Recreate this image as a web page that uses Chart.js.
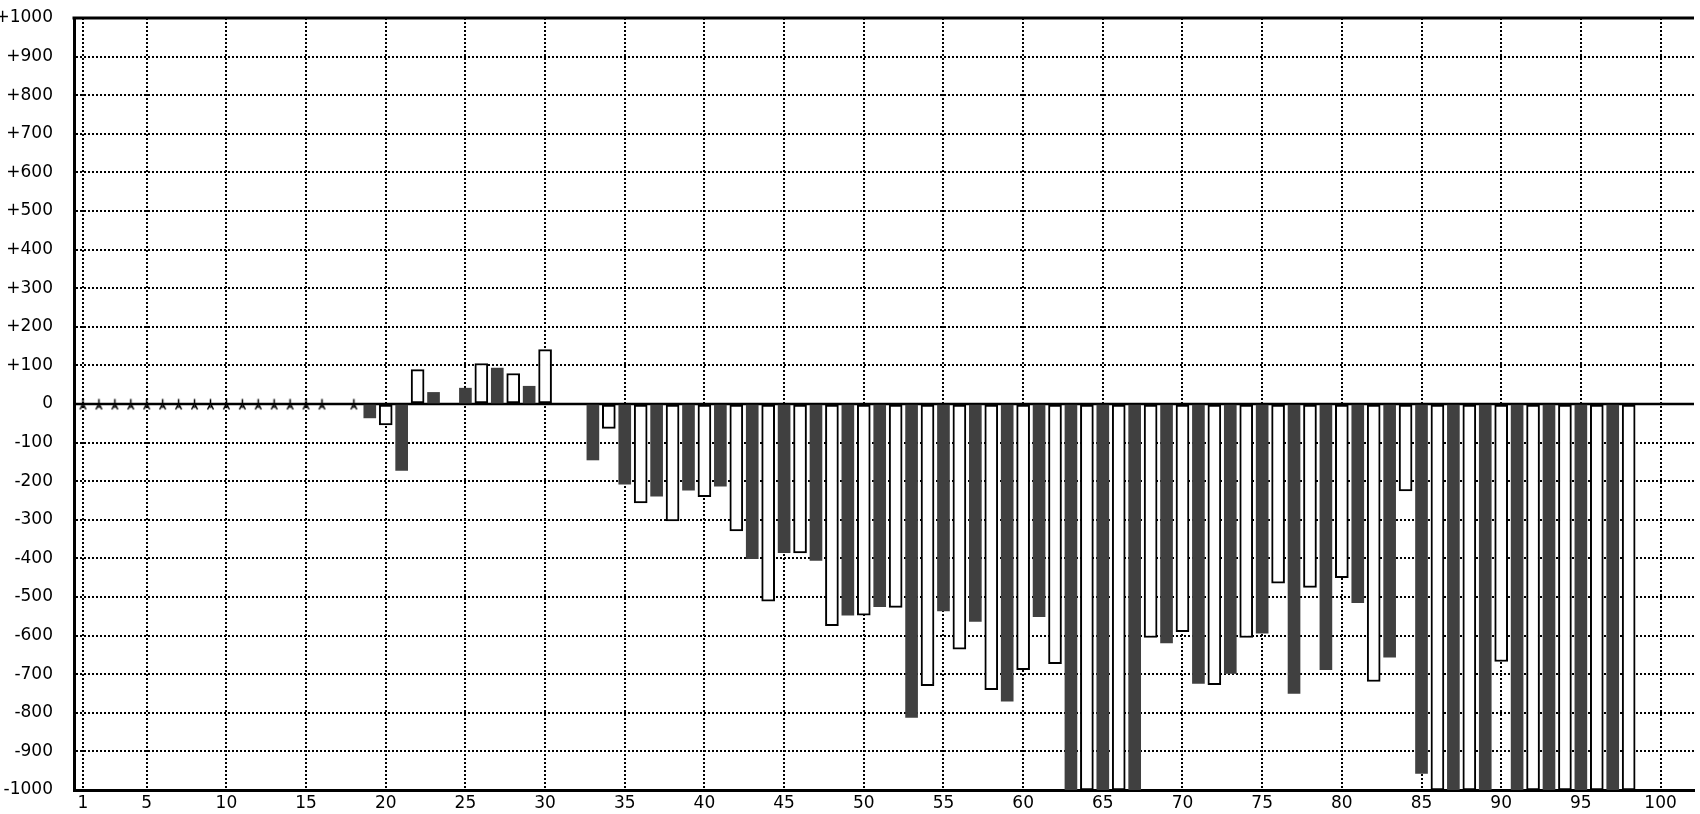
<!DOCTYPE html>
<html><head><meta charset="utf-8">
<script src="https://cdn.jsdelivr.net/npm/chart.js@4/dist/chart.umd.min.js"></script>
<style>html,body{margin:0;padding:0;background:#fff;overflow:hidden}#wrap{width:1700px;height:814px;position:relative}</style>
</head><body><div id="wrap"><canvas id="c" width="1700" height="814"></canvas></div>
<script>
// ---- data ----
const categories = [];
for (let i = 1; i <= 100; i++) categories.push(i);
const values = [
  0, 0, 0, 0, 0, 0, 0, 0, 0, 0,            // 1-10
  0, 0, 0, 0, 0, 0, null, 0, -36, -54,     // 11-20
  -172, 89, 30, null, 41, 105, 93, 79, 46, 141, // 21-30
  null, null, -145, -63, -208, -256, -239, -303, -223, -240, // 31-40
  -213, -329, -401, -511, -385, -386, -405, -574, -547, -547, // 41-50
  -525, -527, -812, -730, -536, -635, -563, -740, -770, -688, // 51-60
  -551, -673, -1000, -1000, -1000, -1000, -1000, -605, -619, -590, // 61-70
  -724, -727, -698, -605, -594, -464, -750, -475, -688, -450, // 71-80
  -515, -719, -656, -225, -957, -1000, -1000, -1000, -1000, -667, // 81-90
  -1000, -1000, -1000, -1000, -1000, -1000, -1000, -1000, null, null // 91-100
];
const xTicks = [1, 5, 10, 15, 20, 25, 30, 35, 40, 45, 50, 55, 60, 65, 70, 75, 80, 85, 90, 95, 100];
const yTicks = [-1000, -900, -800, -700, -600, -500, -400, -300, -200, -100, 0, 100, 200, 300, 400, 500, 600, 700, 800, 900, 1000];

// ---- derived datasets ----
const oddBars = [], evenBars = [], zeroMarks = [];
categories.forEach((c, i) => {
  const v = values[i];
  if (v === null) return;
  if (v === 0) { zeroMarks.push({x: c, y: 0}); return; }
  (c % 2 === 1 ? oddBars : evenBars).push({x: c, y: v});
});

// marker glyph
const glyph = document.createElement('canvas');
glyph.width = 9; glyph.height = 15;
(function () {
  const g = glyph.getContext('2d');
  g.strokeStyle = '#000'; g.lineWidth = 1.5;
  g.beginPath();
  g.moveTo(4.5, 2.5); g.lineTo(4.5, 8);
  g.moveTo(4.5, 7); g.lineTo(1.5, 13);
  g.moveTo(4.5, 7); g.lineTo(7.5, 13);
  g.moveTo(2.5, 10.5); g.lineTo(6.5, 10.5);
  g.stroke();
})();

Chart.defaults.font.family = "'DejaVu Sans', Verdana, sans-serif";
Chart.defaults.font.size = 17;
Chart.defaults.color = '#000';

const framePlugin = {
  id: 'frame',
  beforeDatasetsDraw(chart) {
    const {ctx, chartArea, scales} = chart;
    const y0 = scales.y.getPixelForValue(0);
    ctx.save();
    ctx.strokeStyle = '#000'; ctx.lineWidth = 2.5;
    ctx.beginPath(); ctx.moveTo(chartArea.left, y0); ctx.lineTo(chartArea.right, y0); ctx.stroke();
    ctx.restore();
  },
  afterDraw(chart) {
    const {ctx, chartArea} = chart;
    ctx.save();
    ctx.strokeStyle = '#000'; ctx.lineWidth = 3;
    ctx.beginPath(); ctx.moveTo(chartArea.left - 1.5, chartArea.top); ctx.lineTo(chartArea.right, chartArea.top); ctx.stroke();
    ctx.restore();
  }
};

new Chart(document.getElementById('c'), {
  type: 'bar',
  data: {
    datasets: [
      {type: 'line', data: zeroMarks, showLine: false, pointStyle: glyph, pointRadius: 5, order: 0},
      {data: oddBars, backgroundColor: '#404040', borderWidth: 0, barThickness: 12, grouped: false, order: 2},
      {data: evenBars, backgroundColor: '#ffffff', borderColor: '#000', borderWidth: 2, borderSkipped: false, barThickness: 13, grouped: false, order: 1}
    ]
  },
  options: {
    responsive: false,
    animation: false,
    events: [],
    layout: {padding: {top: 18, right: 0, bottom: 0, left: 0}},
    plugins: {legend: {display: false}, tooltip: {enabled: false}},
    scales: {
      x: {
        type: 'linear',
        offset: false,
        min: 0.4375, max: 102.1,
        afterBuildTicks: s => { s.ticks = xTicks.map(v => ({value: v})); },
        afterFit: s => { s.height = 24; s.paddingLeft = 0; s.paddingRight = 0; },
        ticks: {autoSkip: false, maxRotation: 0, padding: 3, callback: v => String(v)},
        grid: {offset: false, color: '#000', lineWidth: 2, drawTicks: false},
        border: {display: true, color: '#000', width: 3, dash: [2, 2]}
      },
      y: {
        type: 'linear',
        min: -1000, max: 1000,
        afterBuildTicks: s => { s.ticks = yTicks.map(v => ({value: v})); },
        afterFit: s => { s.width = 74; s.paddingTop = 0; s.paddingBottom = 0; },
        ticks: {padding: 21, callback: v => (v > 0 ? '+' + v : String(v))},
        grid: {color: '#000', lineWidth: 2, drawTicks: false},
        border: {display: true, color: '#000', width: 3, dash: [2, 2]}
      }
    }
  },
  plugins: [framePlugin]
});
</script>
</body></html>
